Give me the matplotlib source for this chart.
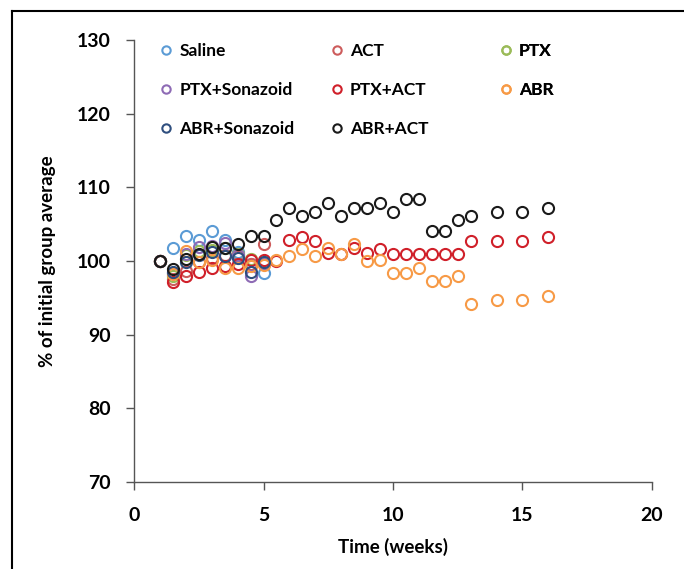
import matplotlib.pyplot as plt
from matplotlib.lines import Line2D

plt.rcParams["font.family"] = ["Lato", "DejaVu Sans"]
plt.rcParams["font.weight"] = "bold"

# week values
t_early = [1, 1.5, 2, 2.5, 3, 3.5, 4, 4.5, 5]
t_long = [1, 1.5, 2, 2.5, 3, 3.5, 4, 4.5, 5, 5.5, 6, 6.5, 7, 7.5, 8, 8.5,
          9, 9.5, 10, 10.5, 11, 11.5, 12, 12.5, 13, 14, 15, 16]

saline = [100, 101.7, 103.4, 102.9, 104.1, 102.9, 101.2, 99.6, 98.3]
act = [100, 97.6, 98.6, 99.8, 100.4, 100.8, 100.6, 99.6, 102.3]
ptx = [100, 98.0, 100.8, 101.4, 101.5, 101.8, 101.0, 100.2, 99.9]
ptx_sono = [100, 98.4, 101.0, 101.85, 102.0, 102.4, 100.8, 97.9, 99.6]
abr_sono = [100, 98.5, 99.9, 100.8, 101.2, 100.6, 100.4, 98.5, 99.8]

ptx_act = [100, 97.2, 98.0, 98.5, 99.0, 99.3, 99.6, 100.1, 100.1, 100.0,
           102.85, 103.2, 102.75, 101.1, 101.0, 101.7, 101.1, 101.6, 101.0,
           101.0, 101.0, 101.0, 101.0, 101.0, 102.75, 102.75, 102.75, 103.2]
abr = [100, 98.2, 101.3, 99.9, 100.1, 99.0, 99.0, 99.3, 99.5, 100.1,
       100.6, 101.6, 100.6, 101.7, 101.0, 102.3, 100.0, 100.1, 98.4, 98.4,
       99.0, 97.3, 97.3, 98.0, 94.2, 94.7, 94.7, 95.2]
abr_act = [100, 98.9, 100.3, 101.0, 101.9, 101.8, 102.3, 103.4, 103.4, 105.6,
           107.2, 106.1, 106.7, 107.9, 106.1, 107.2, 107.2, 107.9, 106.7,
           108.35, 108.35, 104.0, 104.0, 105.6, 106.1, 106.7, 106.7, 107.2]

series = [
    ("Saline", t_early, saline, "#5B9BD5"),
    ("ACT", t_early, act, "#CD5C5C"),
    ("PTX", t_early, ptx, "#9BBB59"),
    ("PTX+Sonazoid", t_early, ptx_sono, "#8E6BB5"),
    ("PTX+ACT", t_long, ptx_act, "#D0202A"),
    ("ABR", t_long, abr, "#F79A46"),
    ("ABR+Sonazoid", t_early, abr_sono, "#2F4F7F"),
    ("ABR+ACT", t_long, abr_act, "#1A1A1A"),
]

fig = plt.figure(figsize=(6.84, 5.69), dpi=100)
ax = fig.add_axes([0.196, 0.153, 0.757, 0.777])

handles = []
for name, x, y, c in series:
    h, = ax.plot(x, y, linestyle="none", marker="o", markersize=8,
                 markerfacecolor="none", markeredgecolor=c, markeredgewidth=1.5,
                 label=name)
    handles.append(h)

ax.set_xlim(0, 20)
ax.set_ylim(70, 130)
ax.set_xticks([0, 5, 10, 15, 20])
ax.set_yticks(range(70, 131, 10))
ax.tick_params(labelsize=14, length=6, width=1, color="#555555")
ax.tick_params(axis="y", pad=11)
ax.tick_params(axis="x", pad=12)
for lab in ax.get_xticklabels() + ax.get_yticklabels():
    lab.set_fontweight("bold")
for s in ["top", "right"]:
    ax.spines[s].set_visible(False)
for s in ["left", "bottom"]:
    ax.spines[s].set_color("#555555")
    ax.spines[s].set_linewidth(1)

ax.set_xlabel("Time (weeks)", fontsize=13.5, fontweight="bold", labelpad=10)
ax.set_ylabel("% of initial group average", fontsize=13.5, fontweight="bold", labelpad=15)

# legend laid out in three equal columns, row by row
col_x = [0.052, 0.382, 0.708]
for i, x0 in enumerate(col_x):
    leg = ax.legend(handles=handles[i::3], loc="upper left",
                    bbox_to_anchor=(x0, 0.993), frameon=False, fontsize=12.5,
                    markerscale=0.75, handlelength=0.6, handletextpad=0.45,
                    labelspacing=1.33, borderpad=0, borderaxespad=0)
    for txt in leg.get_texts():
        txt.set_fontweight("bold")
    ax.add_artist(leg)

# outer frame of the original figure
fig.add_artist(Line2D([12 / 684, 12 / 684], [0, 1 - 11 / 569], color="black", lw=1.5))
fig.add_artist(Line2D([12 / 684, 1], [1 - 11 / 569, 1 - 11 / 569], color="black", lw=1.5))

fig.savefig("out.png", dpi=100)
